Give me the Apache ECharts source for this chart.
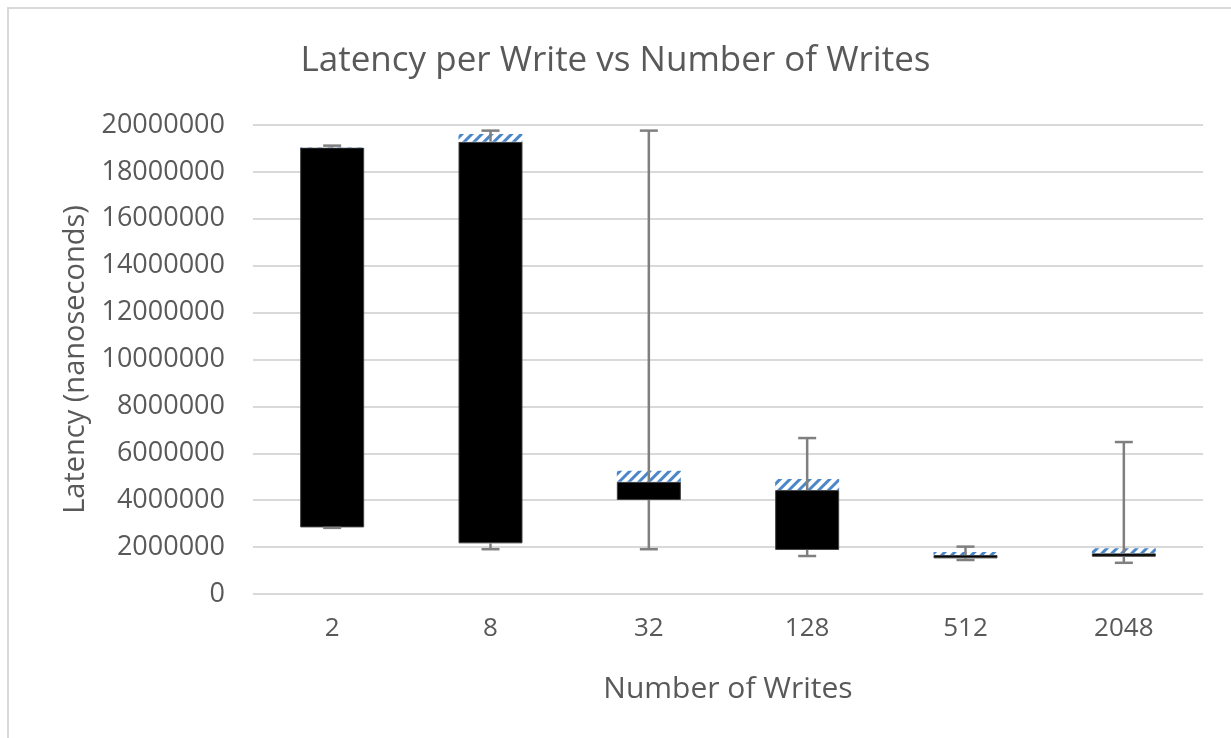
<!DOCTYPE html>
<html>
<head>
<meta charset="utf-8">
<script src="https://cdn.jsdelivr.net/npm/echarts@6/dist/echarts.min.js"></script>
<style>
  html, body { margin: 0; padding: 0; background: #fff; }
  #chart { width: 1231px; height: 738px; }
</style>
</head>
<body>
<div id="chart"></div>
<script>
// box plot built from stacked bars (Excel style), values in nanoseconds
const categories = ['2', '8', '32', '128', '512', '2048'];
const minVals    = [2820000, 1910000, 1910000, 1620000, 1450000, 1330000];
const q1Vals     = [2840000, 2160000, 4010000, 1880000, 1520000, 1590000];
const medianVals = [19040000, 19290000, 4790000, 4430000, 1660000, 1740000];
const q3Vals     = [19060000, 19620000, 5260000, 4900000, 1790000, 1950000];
const maxVals    = [19120000, 19760000, 19760000, 6650000, 2020000, 6480000];

const textColor = '#595959';
const font = 'Open Sans';

const chart = echarts.init(document.getElementById('chart'));

const lowerBox = medianVals.map((m, i) => m - q1Vals[i]);
const upperBox = q3Vals.map((q, i) => q - medianVals[i]);
const whiskers = categories.map((c, i) => [i, minVals[i], q1Vals[i], medianVals[i], maxVals[i]]);

function renderWhisker(params, api) {
  const i = api.value(0);
  const pMin = api.coord([i, api.value(1)]);
  const pQ1 = api.coord([i, api.value(2)]);
  const pMed = api.coord([i, api.value(3)]);
  const pMax = api.coord([i, api.value(4)]);
  const half = 9;
  const style = { stroke: '#7f7f7f', lineWidth: 2.5 };
  return {
    type: 'group',
    children: [
      { type: 'line', shape: { x1: pMin[0], y1: pMin[1], x2: pQ1[0], y2: pQ1[1] }, style: style },
      { type: 'line', shape: { x1: pMed[0], y1: pMed[1], x2: pMax[0], y2: pMax[1] }, style: style },
      { type: 'line', shape: { x1: pMin[0] - half, y1: pMin[1], x2: pMin[0] + half, y2: pMin[1] }, style: style },
      { type: 'line', shape: { x1: pMax[0] - half, y1: pMax[1], x2: pMax[0] + half, y2: pMax[1] }, style: style }
    ]
  };
}

const option = {
  backgroundColor: '#fff',
  animation: false,
  textStyle: { fontFamily: font },
  title: {
    text: 'Latency per Write vs Number of Writes',
    left: 'center',
    top: 39,
    textStyle: { color: textColor, fontSize: 35, fontWeight: 'normal', fontFamily: font }
  },
  graphic: [
    {
      type: 'rect',
      shape: { x: 8, y: 8, width: 1240, height: 760 },
      style: { fill: 'none', stroke: '#d9d9d9', lineWidth: 2 },
      silent: true
    }
  ],
  grid: { left: 253, right: 28, top: 125, bottom: 144 },
  xAxis: {
    type: 'category',
    data: categories,
    name: 'Number of Writes',
    nameLocation: 'middle',
    nameGap: 80,
    nameTextStyle: { color: textColor, fontSize: 30, fontFamily: font },
    axisLine: { show: false },
    axisTick: { show: false },
    axisLabel: { color: textColor, fontSize: 26, margin: 22, fontFamily: font }
  },
  yAxis: {
    type: 'value',
    min: 0,
    max: 20000000,
    interval: 2000000,
    name: 'Latency (nanoseconds)',
    nameLocation: 'middle',
    nameGap: 162,
    nameTextStyle: { color: textColor, fontSize: 29, fontFamily: font },
    axisLine: { show: false },
    axisTick: { show: false },
    axisLabel: {
      color: textColor,
      fontSize: 27,
      margin: 28,
      fontFamily: font,
      formatter: (v) => String(v)
    },
    splitLine: { lineStyle: { color: '#d9d9d9', width: 2 } }
  },
  series: [
    {
      name: 'base',
      type: 'bar',
      stack: 'box',
      barWidth: 64,
      data: q1Vals,
      itemStyle: { color: 'transparent' },
      silent: true
    },
    {
      name: 'Q1 to median',
      type: 'bar',
      stack: 'box',
      data: lowerBox,
      itemStyle: { color: '#000', borderColor: '#3f3f3f', borderWidth: 1 }
    },
    {
      name: 'median to Q3',
      type: 'bar',
      stack: 'box',
      data: upperBox,
      itemStyle: {
        color: '#fff',
        decal: {
          symbol: 'rect',
          symbolSize: 1,
          color: '#4a86c8',
          dashArrayX: [1, 0],
          dashArrayY: [3, 4],
          rotation: -Math.PI / 4
        }
      }
    },
    {
      name: 'whiskers',
      type: 'custom',
      renderItem: renderWhisker,
      data: whiskers,
      z: 5,
      silent: true
    }
  ]
};

chart.setOption(option);
</script>
</body>
</html>
